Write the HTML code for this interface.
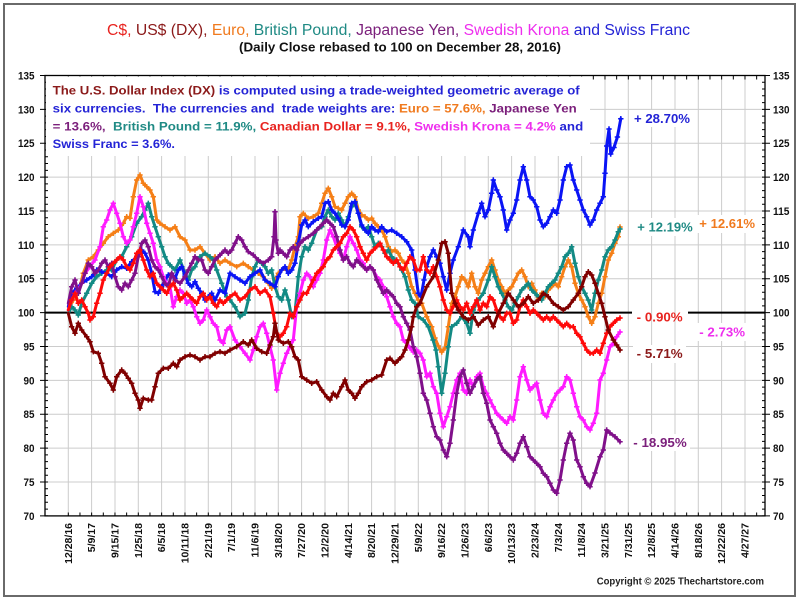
<!DOCTYPE html>
<html><head><meta charset="utf-8"><style>
html,body{margin:0;padding:0;background:#fff;}
svg{display:block;}
text{font-family:"Liberation Sans",Arial,sans-serif;white-space:pre;}
.b{font-weight:bold;}
</style></head><body>
<svg width="800" height="600" viewBox="0 0 800 600" xmlns="http://www.w3.org/2000/svg">
<defs>
<marker id="mo" markerUnits="userSpaceOnUse" markerWidth="8" markerHeight="8" refX="4" refY="4" viewBox="0 0 8 8" overflow="visible"><path d="M1.3 4H6.7M4 1.3V6.7" stroke="#f57f17" stroke-width="1.5" fill="none"/></marker>
<marker id="mt" markerUnits="userSpaceOnUse" markerWidth="8" markerHeight="8" refX="4" refY="4" viewBox="0 0 8 8" overflow="visible"><path d="M1.3 4H6.7M4 1.3V6.7" stroke="#138a84" stroke-width="1.5" fill="none"/></marker>
<marker id="mb" markerUnits="userSpaceOnUse" markerWidth="8" markerHeight="8" refX="4" refY="4" viewBox="0 0 8 8" overflow="visible"><path d="M1.3 4H6.7M4 1.3V6.7" stroke="#0a14f5" stroke-width="1.5" fill="none"/></marker>
<marker id="mm" markerUnits="userSpaceOnUse" markerWidth="8" markerHeight="8" refX="4" refY="4" viewBox="0 0 8 8" overflow="visible"><path d="M1.3 4H6.7M4 1.3V6.7" stroke="#ff1aff" stroke-width="1.5" fill="none"/></marker>
<marker id="mp" markerUnits="userSpaceOnUse" markerWidth="8" markerHeight="8" refX="4" refY="4" viewBox="0 0 8 8" overflow="visible"><path d="M1.3 4H6.7M4 1.3V6.7" stroke="#80108a" stroke-width="1.5" fill="none"/></marker>
<marker id="mr" markerUnits="userSpaceOnUse" markerWidth="8" markerHeight="8" refX="4" refY="4" viewBox="0 0 8 8" overflow="visible"><path d="M1.3 4H6.7M4 1.3V6.7" stroke="#ff0a0a" stroke-width="1.5" fill="none"/></marker>
<marker id="md" markerUnits="userSpaceOnUse" markerWidth="8" markerHeight="8" refX="4" refY="4" viewBox="0 0 8 8" overflow="visible"><path d="M1.3 4H6.7M4 1.3V6.7" stroke="#800000" stroke-width="1.5" fill="none"/></marker>
</defs>
<rect x="0" y="0" width="800" height="600" fill="#fff"/>
<rect x="4" y="4" width="791" height="592" fill="none" stroke="#6a6a6a" stroke-width="2"/>

<!-- Title -->
<text x="107" y="35" font-size="15.5" textLength="583" lengthAdjust="spacingAndGlyphs"><tspan fill="#e8231f">C$, </tspan><tspan fill="#8b1a1a">US$ (DX), </tspan><tspan fill="#f07a1e">Euro, </tspan><tspan fill="#1f8a84">British Pound, </tspan><tspan fill="#7b1f7b">Japanese Yen, </tspan><tspan fill="#ee2fee">Swedish Krona </tspan><tspan fill="#2323d6">and Swiss Franc</tspan></text>
<text class="b" x="239" y="51.5" font-size="12.5" fill="#111" textLength="322" lengthAdjust="spacingAndGlyphs">(Daily Close rebased to 100 on December 28, 2016)</text>

<!-- Gridlines -->
<path d="M68.3 156V516M91.6 156V516M115 156V516M138.3 156V516M161.6 156V516M185 156V516M208.3 156V516M231.6 156V516M255 156V516M278.3 156V516M301.6 156V516M325 156V516M348.3 156V516M371.6 156V516M395 156V516M418.3 156V516M441.6 156V516M465 156V516M488.3 156V516M511.6 156V516M535 156V516M558.3 156V516M581.6 156V516M605 75.5V516M628.3 75.5V516M651.6 75.5V516M675 75.5V516M698.3 75.5V516M721.6 75.5V516M745 75.5V516" stroke="#cccccc" stroke-width="1" fill="none"/>
<path d="M45 482H765M45 448.1H765M45 414.2H765M45 380.4H765M45 346.5H765M45 278.7H765M45 244.9H765M45 211H765M45 177.1H765M590 143.2H765M590 109.4H765" stroke="#cccccc" stroke-width="1" fill="none"/>

<!-- Label backgrounds -->
<rect x="631" y="110" width="62" height="17" fill="#fff"/>
<rect x="634" y="218" width="62" height="18" fill="#fff"/>
<rect x="697" y="215" width="61" height="18" fill="#fff"/>
<rect x="696" y="323" width="52" height="18" fill="#fff"/>
<rect x="633" y="345" width="53" height="18" fill="#fff"/>
<rect x="630" y="434" width="60" height="17" fill="#fff"/>

<!-- 100 line -->
<path d="M45 312.6H632M688 312.6H765" stroke="#000" stroke-width="2"/>

<!-- Axes frame -->
<rect x="45" y="75.5" width="720" height="440.4" fill="none" stroke="#000" stroke-width="1.3"/>
<!-- ticks -->
<line x1="46.5" y1="516.35" x2="46.5" y2="75" stroke="#000" stroke-width="3" stroke-dasharray="1 5.775"/>
<line x1="42.5" y1="516.35" x2="42.5" y2="75" stroke="#000" stroke-width="5" stroke-dasharray="1 32.875"/>
<line x1="763.5" y1="516.35" x2="763.5" y2="75" stroke="#000" stroke-width="3" stroke-dasharray="1 5.775"/>
<line x1="767.5" y1="516.35" x2="767.5" y2="75" stroke="#000" stroke-width="5" stroke-dasharray="1 32.875"/>
<line x1="67.8" y1="77.5" x2="765" y2="77.5" stroke="#000" stroke-width="4" stroke-dasharray="1 10.667"/>
<line x1="67.8" y1="514" x2="765" y2="514" stroke="#000" stroke-width="3" stroke-dasharray="1 10.667"/>

<!-- Annotation box -->
<rect x="46" y="76.5" width="544" height="79" fill="#fff"/>
<text class="b" x="52.7" y="94.3" font-size="12" textLength="527" lengthAdjust="spacingAndGlyphs"><tspan fill="#8b1a1a">The U.S. Dollar Index (DX)</tspan><tspan fill="#2323d6"> is computed using a trade-weighted geometric average of</tspan></text>
<text class="b" x="52.7" y="112.5" font-size="12" textLength="524" lengthAdjust="spacingAndGlyphs"><tspan fill="#2323d6">six currencies.  The currencies and  trade weights are: </tspan><tspan fill="#f07a1e">Euro = 57.6%,</tspan><tspan fill="#7b1f7b"> Japanese Yen</tspan></text>
<text class="b" x="52.7" y="130.3" font-size="12" textLength="530.5" lengthAdjust="spacingAndGlyphs"><tspan fill="#7b1f7b">= 13.6%,</tspan><tspan fill="#1f8a84">  British Pound = 11.9%,</tspan><tspan fill="#e8231f"> Canadian Dollar = 9.1%,</tspan><tspan fill="#ee2fee"> Swedish Krona = 4.2%</tspan><tspan fill="#2323d6"> and</tspan></text>
<text class="b" x="52.7" y="148.2" font-size="12" fill="#2323d6" textLength="122.3" lengthAdjust="spacingAndGlyphs">Swiss Franc = 3.6%.</text>

<!-- Series -->
<g fill="none" stroke-width="3" stroke-linejoin="round" stroke-linecap="round">
<polyline stroke="#f57f17" marker-mid="url(#mo)" marker-end="url(#mo)" points="68.3,310 73.3,300 78.3,293.3 83.3,273.3 88.3,260 93.3,256.7 98.3,250 103.3,243.3 108.3,236.7 113.3,233.3 118.3,230 123.3,223.3 126.7,216.7 130,218.3 133.3,196.7 136.7,180 140,175 143.3,183.3 146.7,186.7 150,190 153.3,196.7 156.7,220 160,223.3 165,226.7 170,230 175,226.7 180,236.7 185,240 190,250 195,250 200,246.7 205,253.3 210,260 215,256.7 220,263.3 225,260 230,263.3 236.7,266.7 243.3,263.3 248.3,266.7 253.3,270 258.3,273.3 263.3,276.7 268.3,283.3 271.7,288.3 275,280 278.3,273.3 281.7,270 285,268.3 288.3,270 291.7,260 295,246.7 298.3,236.7 300,216.7 303.3,213.3 308.3,218.3 313.3,216.7 318.3,213.3 321.7,203.3 325,193.3 328.3,188.3 331.7,196.7 335,206.7 338.3,208.3 341.7,210 345,203.3 348.3,196.7 351.7,193.3 355,196.7 358.3,210 361.7,215 365,216.7 368.3,220 371.7,218.3 375,223.3 378.3,226.7 381.7,230 385,236.7 388.3,246.7 391.7,251.7 395,250 398.3,253.3 401.7,260 405,263.3 408.3,273.3 411.7,286.7 415,293.3 418.3,300 421.7,303.3 426.7,316.7 431.7,326.7 435,338 438.3,346 441.7,352 445,348 448.3,326.7 451.7,303.3 455,296.7 458.3,286.7 461.7,276.7 465,280 468.3,286.7 471.7,273.3 475,286.7 478.3,293.3 481.7,280 485,273.3 488.3,266.7 491.7,260 495,270 498.3,280 501.7,286.7 505,293.3 508.3,290 511.7,286.7 515,280 518.3,273.3 521.7,270 525,276.7 528.3,286.7 531.7,283.3 535,290 538.3,300 541.7,293.3 545,296.7 548.3,290 551.7,286.7 555,283.3 558.3,286.7 561.7,276.7 565,266.7 568.3,260 571.7,266.7 575,283.3 578.3,293.3 581.7,300 585,306.7 588.3,316.7 591.7,323.3 595,316.7 598.3,303.3 601.7,293.3 605,276.7 608.3,260 611.7,253.3 615,243.3 618.3,236.7 620,227"/>
<polyline stroke="#138a84" marker-mid="url(#mt)" marker-end="url(#mt)" points="68.3,313.3 71.7,306.7 75,310 78.3,315 81.7,303.3 86.7,293.3 91.7,283.3 96.7,276.7 101.7,273.3 106.7,270 111.7,270 116.7,260 121.7,256.7 126.7,246.7 131.7,236.7 136.7,223.3 141.7,216.7 145,210 148.3,203.3 151.7,216.7 155,226.7 158.3,236.7 161.7,246.7 165,256.7 168.3,263.3 171.7,266.7 175,270 180,260 185,273.3 188.3,280 191.7,270 195,266.7 200,256.7 205,253.3 210,256.7 213.3,260 216.7,270 221.7,283.3 226.7,296.7 230,300 235,306.7 240,316.7 245,313.3 248.3,300 251.7,276.7 255,266.7 258.3,260 261.7,263.3 265,266.7 268.3,273.3 271.7,270 275,286.7 278.3,296.7 281.7,300 285,290 288.3,300 291.7,316.7 295,313.3 298.3,276.7 301.7,256.7 305,246.7 308.3,250 311.7,243.3 316.7,230 321.7,226.7 325,216.7 328.3,210 331.7,216.7 335,220 338.3,213.3 341.7,220 345,226.7 348.3,216.7 351.7,206.7 355,203.3 358.3,213.3 361.7,226.7 365,230 368.3,226.7 371.7,236.7 375,246.7 378.3,243.3 381.7,246.7 385,253.3 388.3,250 391.7,256.7 395,260 398.3,263.3 401.7,270 405,276.7 408.3,290 411.7,300 415,303.3 418.3,316.7 423.3,320 428.3,326.7 433,340 436,350 438.3,366.7 441.7,393.3 445,373.3 448.3,346.7 451.7,326.7 456.7,323.3 461.7,316.7 466.7,323.3 470,333.3 473.3,310 478.3,300 483.3,293.3 488.3,280 491.7,266.7 495,276.7 498.3,286.7 501.7,293.3 505,300 508.3,306.7 511.7,310 515,303.3 518.3,296.7 521.7,290 525,286.7 528.3,283.3 531.7,290 535,293.3 538.3,296.7 541.7,300 545,293.3 548.3,286.7 551.7,283.3 555,280 558.3,273.3 561.7,266.7 565,256.7 568.3,253.3 571.7,246.7 575,263.3 578.3,276.7 581.7,286.7 585,293.3 588.3,300 591.7,310 595,293.3 598.3,280 601.7,270 605,256.7 608.3,250 611.7,246.7 615,240 618.3,231.7 620,229"/>
<polyline stroke="#0a14f5" marker-mid="url(#mb)" marker-end="url(#mb)" points="68.3,306.7 71.7,293.3 76.7,288.3 81.7,283.3 86.7,280 91.7,276.7 96.7,270 101.7,271.7 106.7,273.3 111.7,276.7 116.7,270 121.7,266.7 126.7,268.3 131.7,261.7 136.7,256.7 141.7,250 145,253.3 148.3,260 151.7,273.3 155,291.7 158.3,293.3 161.7,286.7 165,280 168.3,275 171.7,273.3 175,278.3 178.3,270 181.7,266.7 185,275 188.3,283.3 191.7,286.7 195,281.7 198.3,288.3 201.7,293.3 205,300 208.3,296.7 211.7,293.3 215,300 220,290 225,293.3 230,273.3 235,276.7 240,280 245,283.3 250,276.7 255,273.3 260,270 265,280 270,283.3 275,286.7 278.3,276.7 281.7,270 285,266.7 288.3,273.3 291.7,270 295,263.3 298.3,243.3 301.7,225 305,220 308.3,226.7 313.3,221.7 318.3,218.3 321.7,216.7 325,203.3 328.3,201.7 331.7,210 335,213.3 338.3,218.3 341.7,225 345,226.7 348.3,220 351.7,203.3 355,201.7 358.3,213.3 361.7,225 365,230 368.3,233.3 371.7,226.7 375,230 378.3,231.7 381.7,226.7 386.7,231.7 391.7,230 396.7,233.3 401.7,236.7 406.7,241.7 411.7,250 415,270 418.3,293.3 421,296.7 424,280 426.7,266.7 430,256.7 433.3,250 436.7,256.7 440,263.3 443.3,276.7 446.7,290 450,273.3 453.3,260 458.3,246.7 463.3,230 468.3,236.7 470,246.7 473.3,230 478.3,213.3 481.7,203.3 485,216.7 488.3,210 491.7,193.3 493.3,180 496.7,190 500,196.7 503.3,210 506.7,230 510,220 513.3,213.3 516.7,200 520,180 523.3,166.7 526.7,180 530,196.7 533.3,200 536.7,206.7 540,220 543.3,226.7 546.7,223.3 550,216.7 553.3,210 556.7,213.3 560,200 563.3,180 566.7,166.7 570,165 573.3,180 576.7,190 580,200 583.3,210 586.7,216.7 590,225 593.3,220 596.7,210 600,203.3 603.3,196.7 605,173.3 606.7,146 609,129 610.7,154 614,147.5 617.4,137 620.8,118.7"/>
<polyline stroke="#ff1aff" marker-mid="url(#mm)" marker-end="url(#mm)" points="68.3,310 71.7,300 75,293.3 78.3,290 81.7,283.3 85,273.3 90,266.7 95,260 100,246.7 103.3,226.7 106.7,220 110,210 113.3,203.3 116.7,213.3 120,223.3 123.3,236.7 126.7,243.3 130,240 133.3,226.7 136.7,213.3 140,196.7 143.3,206.7 146.7,223.3 150,233.3 153.3,243.3 156.7,260 160,266.7 163.3,276.7 166.7,283.3 170,286.7 173.3,306.7 176.7,296.7 180,290 183.3,293.3 186.7,303.3 190,300 193.3,306.7 196.7,316.7 200,323.3 203.3,320 206.7,310 210,316.7 213.3,323.3 216.7,326.7 220,340 223.3,343.3 226.7,330 230,326.7 235,340 240,346.7 245,353.3 250,360 253.3,350 256.7,336.7 260,326.7 263.3,323.3 266.7,333.3 270,346.7 273.3,360 276.7,390 280,373.3 283.3,363.3 286.7,353.3 290,346.7 293.3,340 296.7,306.7 300,293.3 303.3,280 306.7,273.3 310,276.7 313.3,286.7 316.7,280 320,273.3 323.3,260 326.7,240 330,230 333.3,236.7 336.7,246.7 340,253.3 343.3,260 346.7,246.7 350,236.7 353.3,243.3 356.7,250 360,260 363.3,263.3 366.7,270 370,266.7 373.3,270 376.7,276.7 380,280 383.3,286.7 386.7,296.7 390,306.7 393.3,316.7 396.7,323.3 400,326.7 403.3,340 406.7,343 410,348 413.3,352 416.7,350 420,353.3 423.3,360 426.7,376.7 430,373.3 433.3,386.7 436.7,393.3 440,413.3 443.3,426.7 446.7,416.7 450,406.7 453.3,393.3 456.7,380 460,373.3 463.3,390 466.7,393.3 470,380 473.3,386.7 476.7,376.7 480,373.3 483.3,386.7 486.7,393.3 490,400 493.3,406.7 496.7,413.3 500,416.7 503.3,420 506.7,423.3 510,416.7 513.3,420 516.7,400 520,376.7 523.3,366.7 526.7,380 530,390 533.3,386.7 536.7,383.3 540,400 543.3,413.3 546.7,416.7 550,406.7 553.3,400 556.7,393.3 560,390 563.3,386.7 566.7,376.7 570,380 573.3,393.3 576.7,406.7 580,416.7 583.3,420 586.7,426.7 590,430 593.3,423.3 596.7,413.3 600,380 603.3,373.3 606.7,360 610,346.7 613.3,343.3 616.7,336.7 620,332"/>
<polyline stroke="#80108a" marker-mid="url(#mp)" marker-end="url(#mp)" points="68.3,303.3 71.7,286.7 75,280 78.3,293.3 81.7,283.3 85,273.3 88.3,263.3 91.7,266.7 95,273.3 98.3,270 101.7,263.3 105,260 108.3,266.7 111.7,263.3 115,276.7 118.3,286.7 121.7,290 125,283.3 128.3,286.7 131.7,280 135,273.3 138.3,256.7 141.7,243.3 145,240 148.3,246.7 151.7,260 155,266.7 158.3,270 161.7,276.7 165,283.3 168.3,286.7 171.7,273.3 175,280 180,283.3 185,276.7 188.3,270 191.7,263.3 195,256.7 198.3,260 201.7,260 205,270 208.3,273.3 211.7,266.7 215,260 218.3,256.7 221.7,253.3 225,250 228.3,253.3 231.7,250 235,243.3 238.3,236.7 241.7,240 245,246.7 248.3,251.7 253.3,255 258.3,260 263.3,263.3 268.3,260 271.7,256.7 274,236.7 275,211.7 276,240 278.3,253.3 280,250 283.3,253.3 286.7,256.7 290,250 293.3,246.7 296.7,250 300,243.3 303.3,240 308.3,236.7 313.3,233.3 316.7,230 320,226.7 323.3,223.3 326.7,220 330,223.3 333.3,226.7 336.7,236.7 340,250 343.3,260 346.7,256.7 350,263.3 353.3,266.7 356.7,260 360,263.3 363.3,266.7 366.7,270 370,266.7 373.3,270 376.7,280 380,286.7 383.3,293.3 386.7,290 390,293.3 393.3,296.7 396.7,303.3 400,306.7 403.3,316.7 406.7,323.3 410,330 413.3,346.7 416.7,356.7 420,373.3 423.3,393.3 426.7,400 430,413.3 433.3,426.7 436.7,436.7 440,440 443.3,450 446.7,456.7 450,443.3 453.3,420 456.7,393.3 460,376.7 463.3,370 466.7,383.3 470,393.3 473.3,386.7 476.7,380 480,376.7 483.3,393.3 486.7,403.3 490,420 493.3,426.7 496.7,433.3 500,443.3 503.3,450 506.7,453.3 510,456.7 513.3,460 516.7,453.3 520,443.3 523.3,436.7 526.7,446.7 530,456.7 533.3,460 536.7,463.3 540,466.7 543.3,473.3 546.7,476.7 550,483.3 553.3,490 556.7,493.3 560,480 563.3,460 566.7,443.3 570,433.3 573.3,440 576.7,460 580,466.7 583.3,476.7 586.7,483.3 590,486.7 595,473 600,456.7 603.3,450 606.7,430 610,433 615,436.7 620,441.7"/>
<polyline stroke="#ff0a0a" marker-mid="url(#mr)" marker-end="url(#mr)" points="68.3,310 71.7,300 75,293.3 78.3,303.3 81.7,300 85,306.7 88.3,313.3 90,320 93.3,316.7 96.7,303.3 100,293.3 103.3,280 106.7,273.3 110,266.7 113.3,263.3 116.7,260 120,256.7 123.3,260 126.7,266.7 130,270 133.3,263.3 136.7,253.3 140,250 143.3,260 146.7,270 150,276.7 153.3,273.3 156.7,283.3 160,286.7 163.3,290 166.7,293.3 170,286.7 173.3,283.3 176.7,290 180,300 183.3,296.7 186.7,293.3 190,296.7 193.3,300 196.7,303.3 200,296.7 203.3,293.3 206.7,300 210,296.7 213.3,303.3 216.7,306.7 220,300 223.3,303.3 226.7,300 230,296.7 235,293.3 240,300 245,296.7 250,290 255,286.7 260,293.3 265,290 270,296.7 273.3,313.3 276.7,333.3 280,336.7 283.3,333.3 286.7,326.7 290,313.3 293.3,316.7 296.7,306.7 300,300 303.3,293.3 306.7,293.3 310,286.7 313.3,280 316.7,273.3 320,270 323.3,266.7 326.7,260 330,256.7 333.3,250 336.7,246.7 340,243.3 343.3,236.7 346.7,233.3 350,226.7 353.3,230 356.7,236.7 360,246.7 363.3,253.3 366.7,260 370,253.3 373.3,250 376.7,246.7 380,243.3 383.3,250 386.7,256.7 390,260 393.3,263.3 396.7,260 400,266.7 403.3,270 406.7,263.3 410,256.7 413.3,260 416.7,270 420,270 423.3,256.7 426.7,270 430,273.3 433.3,266.7 436.7,276.7 440,286.7 443.3,300 446.7,310 450,313.3 453.3,306.7 456.7,300 460,306.7 463.3,310 466.7,303.3 470,313.3 473.3,306.7 476.7,300 480,310 483.3,303.3 486.7,306.7 490,296.7 493.3,300 496.7,310 500,316.7 503.3,320 506.7,313.3 510,313.3 513.3,323.3 516.7,320 520,306.7 523.3,300 526.7,306.7 530,313.3 533.3,310 536.7,313.3 540,316.7 543.3,320 546.7,316.7 550,320 553.3,316.7 556.7,320 560,323.3 563.3,326.7 566.7,323.3 570,326.7 573.3,326.7 576.7,333.3 580,336.7 583.3,343.3 586.7,350 590,353.3 593.3,353.3 596.7,350 600,353.3 603.3,343.3 606.7,333.3 610,326.7 613.3,323.3 616.7,320 620,318"/>
<polyline stroke="#800000" marker-mid="url(#md)" marker-end="url(#md)" points="68.3,313.3 71.7,326.7 75,333.3 78.3,323.3 81.7,330 86.7,336.7 90,341.7 93.3,351.7 98.3,353.3 101.7,363.3 105,376.7 110,383.3 113.3,390 116.7,376.7 121.7,370 125,373.3 128.3,378.3 131.7,383.3 135,393.3 138.3,400 140,408.3 143.3,398.3 148.3,400 151.7,400 155,386.7 158.3,373.3 163.3,368.3 168.3,368.3 173.3,363.3 176.7,366.7 180,360 185,356.7 190,355 195,356.7 200,360 205,356.7 210,356.7 215,353.3 220,351.7 225,353.3 230,350 236.7,346.7 243.3,341.7 248.3,345 251.7,340 256.7,348.3 261.7,351.7 266.7,353.3 270,345 273.3,336.7 275,323.3 278.3,340 283.3,343.3 288.3,341.7 291.7,346.7 295,356.7 298.3,360 301.7,376.7 306.7,380 311.7,383.3 316.7,381.7 321.7,390 326.7,396.7 330,400 333.3,393.3 336.7,396.7 341.7,386.7 345,380 348.3,390 351.7,393.3 355,398.3 358.3,393.3 361.7,386.7 366.7,381.7 371.7,380 376.7,376.7 381.7,375 386.7,360 390,358.3 395,363.3 398.3,360 401.7,356.7 405,350 408.3,340 411.7,326.7 413.3,316.7 416.7,306.7 420,303.3 426.7,286.7 433.3,276.7 438.3,260 441.7,243.3 445,241.7 448.3,253.3 451.7,293.3 455,303.3 458.3,310 463.3,316.7 468.3,320 473.3,316.7 478.3,325 483.3,320 488.3,316.7 493.3,326.7 498.3,313.3 503.3,303.3 508.3,293.3 513.3,300 518.3,306.7 523.3,303.3 528.3,296.7 533.3,303.3 538.3,300 543.3,293.3 548.3,296.7 553.3,303.3 558.3,306.7 563.3,310 568.3,306.7 573.3,300 578.3,293.3 581.7,286.7 585,276.7 588.3,271.7 591.7,275 595,283.3 598.3,293.3 601.7,303.3 605,316.7 608.3,330 613.3,340 616.7,345 620,350"/>
</g>

<!-- Percentage labels -->
<g class="b" font-size="13" font-weight="bold">
<text x="634" y="123" fill="#2323d6" textLength="56" lengthAdjust="spacingAndGlyphs">+ 28.70%</text>
<text x="637.3" y="231.4" fill="#1f8a84" textLength="55.4" lengthAdjust="spacingAndGlyphs">+ 12.19%</text>
<text x="699.3" y="228" fill="#f07a1e" textLength="55.7" lengthAdjust="spacingAndGlyphs">+ 12.61%</text>
<text x="636.7" y="321.4" fill="#e8231f" textLength="46" lengthAdjust="spacingAndGlyphs">- 0.90%</text>
<text x="699.3" y="336.4" fill="#ee2fee" textLength="45.7" lengthAdjust="spacingAndGlyphs">- 2.73%</text>
<text x="636.7" y="358" fill="#8b1a1a" textLength="46" lengthAdjust="spacingAndGlyphs">- 5.71%</text>
<text x="633.3" y="447" fill="#7b1f7b" textLength="53.4" lengthAdjust="spacingAndGlyphs">- 18.95%</text>
</g>

<!-- Y axis labels left -->
<g font-size="11" font-weight="bold" fill="#111" text-anchor="end">
<text x="34.5" y="79.4" textLength="16.5" lengthAdjust="spacingAndGlyphs">135</text>
<text x="34.5" y="113.3" textLength="16.5" lengthAdjust="spacingAndGlyphs">130</text>
<text x="34.5" y="147.1" textLength="16.5" lengthAdjust="spacingAndGlyphs">125</text>
<text x="34.5" y="181" textLength="16.5" lengthAdjust="spacingAndGlyphs">120</text>
<text x="34.5" y="214.9" textLength="16.5" lengthAdjust="spacingAndGlyphs">115</text>
<text x="34.5" y="248.8" textLength="16.5" lengthAdjust="spacingAndGlyphs">110</text>
<text x="34.5" y="282.6" textLength="16.5" lengthAdjust="spacingAndGlyphs">105</text>
<text x="34.5" y="316.5" textLength="16.5" lengthAdjust="spacingAndGlyphs">100</text>
<text x="34.5" y="350.4" textLength="11" lengthAdjust="spacingAndGlyphs">95</text>
<text x="34.5" y="384.3" textLength="11" lengthAdjust="spacingAndGlyphs">90</text>
<text x="34.5" y="418.1" textLength="11" lengthAdjust="spacingAndGlyphs">85</text>
<text x="34.5" y="452" textLength="11" lengthAdjust="spacingAndGlyphs">80</text>
<text x="34.5" y="485.9" textLength="11" lengthAdjust="spacingAndGlyphs">75</text>
<text x="34.5" y="519.8" textLength="11" lengthAdjust="spacingAndGlyphs">70</text>
</g>
<!-- Y axis labels right -->
<g font-size="11" font-weight="bold" fill="#111">
<text x="773" y="79.4" textLength="16.5" lengthAdjust="spacingAndGlyphs">135</text>
<text x="773" y="113.3" textLength="16.5" lengthAdjust="spacingAndGlyphs">130</text>
<text x="773" y="147.1" textLength="16.5" lengthAdjust="spacingAndGlyphs">125</text>
<text x="773" y="181" textLength="16.5" lengthAdjust="spacingAndGlyphs">120</text>
<text x="773" y="214.9" textLength="16.5" lengthAdjust="spacingAndGlyphs">115</text>
<text x="773" y="248.8" textLength="16.5" lengthAdjust="spacingAndGlyphs">110</text>
<text x="773" y="282.6" textLength="16.5" lengthAdjust="spacingAndGlyphs">105</text>
<text x="773" y="316.5" textLength="16.5" lengthAdjust="spacingAndGlyphs">100</text>
<text x="773" y="350.4" textLength="11" lengthAdjust="spacingAndGlyphs">95</text>
<text x="773" y="384.3" textLength="11" lengthAdjust="spacingAndGlyphs">90</text>
<text x="773" y="418.1" textLength="11" lengthAdjust="spacingAndGlyphs">85</text>
<text x="773" y="452" textLength="11" lengthAdjust="spacingAndGlyphs">80</text>
<text x="773" y="485.9" textLength="11" lengthAdjust="spacingAndGlyphs">75</text>
<text x="773" y="519.8" textLength="11" lengthAdjust="spacingAndGlyphs">70</text>
</g>

<!-- X axis labels -->
<g font-size="10.5" font-weight="bold" fill="#111" text-anchor="end">
<text transform="translate(71.8,523) rotate(-90)">12/28/16</text>
<text transform="translate(95.1,523) rotate(-90)">5/9/17</text>
<text transform="translate(118.5,523) rotate(-90)">9/15/17</text>
<text transform="translate(141.8,523) rotate(-90)">1/25/18</text>
<text transform="translate(165.1,523) rotate(-90)">6/5/18</text>
<text transform="translate(188.5,523) rotate(-90)">10/11/18</text>
<text transform="translate(211.8,523) rotate(-90)">2/21/19</text>
<text transform="translate(235.1,523) rotate(-90)">7/1/19</text>
<text transform="translate(258.5,523) rotate(-90)">11/6/19</text>
<text transform="translate(281.8,523) rotate(-90)">3/18/20</text>
<text transform="translate(305.1,523) rotate(-90)">7/27/20</text>
<text transform="translate(328.5,523) rotate(-90)">12/2/20</text>
<text transform="translate(351.8,523) rotate(-90)">4/14/21</text>
<text transform="translate(375.1,523) rotate(-90)">8/20/21</text>
<text transform="translate(398.5,523) rotate(-90)">12/29/21</text>
<text transform="translate(421.8,523) rotate(-90)">5/9/22</text>
<text transform="translate(445.1,523) rotate(-90)">9/16/22</text>
<text transform="translate(468.5,523) rotate(-90)">1/26/23</text>
<text transform="translate(491.8,523) rotate(-90)">6/6/23</text>
<text transform="translate(515.1,523) rotate(-90)">10/13/23</text>
<text transform="translate(538.5,523) rotate(-90)">2/23/24</text>
<text transform="translate(561.8,523) rotate(-90)">7/3/24</text>
<text transform="translate(585.1,523) rotate(-90)">11/8/24</text>
<text transform="translate(608.5,523) rotate(-90)">3/21/25</text>
<text transform="translate(631.8,523) rotate(-90)">7/31/25</text>
<text transform="translate(655.1,523) rotate(-90)">12/8/25</text>
<text transform="translate(678.5,523) rotate(-90)">4/14/26</text>
<text transform="translate(701.8,523) rotate(-90)">8/18/26</text>
<text transform="translate(725.1,523) rotate(-90)">12/22/26</text>
<text transform="translate(748.5,523) rotate(-90)">4/27/27</text>
</g>

<text x="596.7" y="584.5" font-size="10" font-weight="bold" fill="#222" textLength="167.3" lengthAdjust="spacingAndGlyphs">Copyright © 2025 Thechartstore.com</text>
</svg>
</body></html>
